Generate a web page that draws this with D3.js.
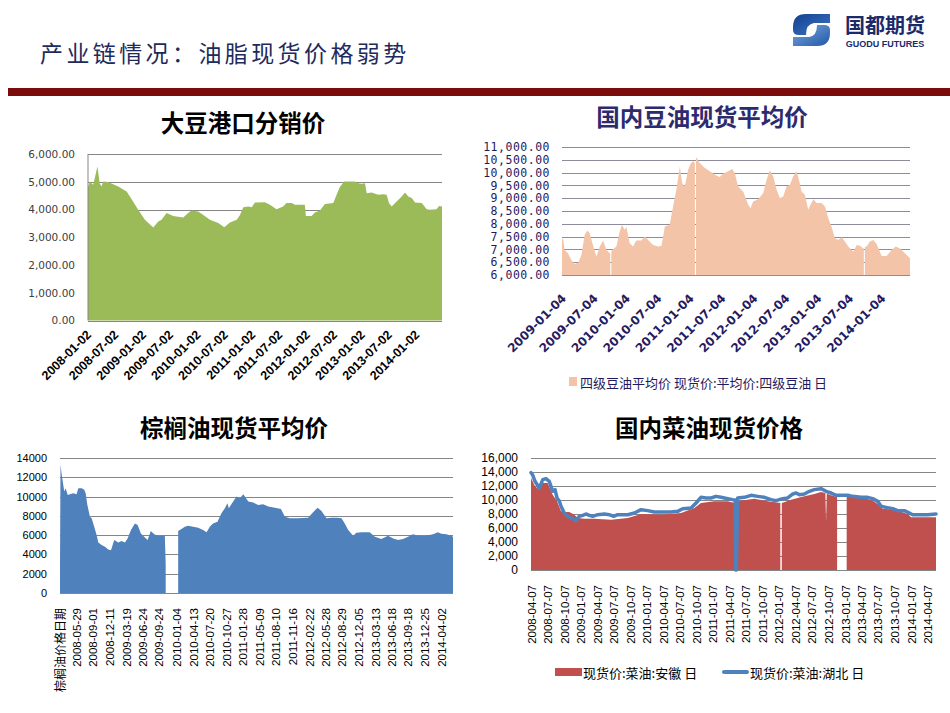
<!DOCTYPE html>
<html>
<head>
<meta charset="utf-8">
<script src="https://cdnjs.cloudflare.com/ajax/libs/d3/7.8.5/d3.min.js"></script>
<style>
  body{margin:0;background:#fff;}
  svg{display:block;}
</style>
</head>
<body>
<svg id="page" width="950" height="713"></svg>
<script>
// ---------------------------------------------------------------------------
// ------------------------------ DATA ---------------------------------------
// ---------------------------------------------------------------------------

// 大豆港口分销价
var soyPortPrice = [
 ["2008-01-02",4800],["2008-01-15",5010],["2008-02-05",4890],["2008-02-16",5130],["2008-03-05",5550],
 ["2008-03-20",4950],["2008-04-01",4830],["2008-04-13",5010],["2008-05-15",4990],["2008-07-22",4830],
 ["2008-09-16",4650],["2008-10-08",4470],["2008-12-02",3990],["2009-01-16",3630],["2009-03-13",3350],
 ["2009-04-15",3570],["2009-05-07",3630],["2009-06-10",3870],["2009-07-24",3770],["2009-09-29",3710],
 ["2009-11-01",3870],["2009-11-23",3960],["2010-01-07",3930],["2010-02-10",3800],["2010-03-26",3630],
 ["2010-05-21",3510],["2010-06-30",3360],["2010-08-07",3530],["2010-09-21",3630],["2010-10-13",3800],
 ["2010-11-04",4080],["2010-12-08",4110],["2010-12-30",4080],["2011-01-21",4250],["2011-03-28",4260],
 ["2011-05-01",4170],["2011-06-14",4010],["2011-07-28",4110],["2011-08-20",4230],["2011-09-23",4230],
 ["2011-10-15",4170],["2011-12-20",4170],["2011-12-27",3770],["2012-02-03",3770],["2012-02-25",3890],
 ["2012-03-30",3960],["2012-05-02",4200],["2012-06-27",4230],["2012-07-19",4530],["2012-08-10",4810],
 ["2012-09-08",5010],["2012-11-18",5010],["2012-12-10",4950],["2013-01-03",4930],["2013-01-25",4950],
 ["2013-02-05",4590],["2013-03-10",4610],["2013-04-23",4530],["2013-05-27",4550],["2013-06-18",4530],
 ["2013-07-04",4230],["2013-07-22",4110],["2013-08-24",4290],["2013-09-27",4470],["2013-10-19",4610],
 ["2013-11-10",4470],["2013-12-03",4410],["2013-12-25",4250],["2014-02-08",4230],["2014-03-13",4010],
 ["2014-04-04",3990],["2014-05-18",4010],["2014-06-03",4130],["2014-06-23",4110]
];
var soyPortTicks = ["2008-01-02","2008-07-02","2009-01-02","2009-07-02","2010-01-02","2010-07-02",
 "2011-01-02","2011-07-02","2012-01-02","2012-07-02","2013-01-02","2013-07-02","2014-01-02"];
var soyPortYTicks = [0,1000,2000,3000,4000,5000,6000];

// 国内豆油现货平均价 (null = no quote)
var soyOilPrice = [
 ["2009-01-04",7370],["2009-01-10",7440],["2009-01-19",6980],["2009-02-07",6850],["2009-02-26",6590],
 ["2009-03-18",6430],["2009-04-06",6480],["2009-04-25",6780],["2009-05-14",7570],["2009-05-29",7740],
 ["2009-06-11",7630],["2009-06-30",7170],["2009-07-20",6720],["2009-08-08",7110],["2009-08-27",7350],
 ["2009-09-15",6980],["2009-10-04",6850],["2009-10-07",6850],["2009-10-10",null],["2009-10-13",6900],
 ["2009-10-17",6980],["2009-11-11",7110],["2009-11-30",7700],["2009-12-13",7960],["2009-12-29",7760],
 ["2010-01-07",7890],["2010-01-26",7240],["2010-02-14",7110],["2010-03-05",7350],["2010-04-03",7350],
 ["2010-04-22",7500],["2010-05-11",7370],["2010-06-09",7170],["2010-07-08",7110],["2010-07-27",7140],
 ["2010-08-15",7890],["2010-09-12",7960],["2010-10-01",8680],["2010-10-20",9330],["2010-11-09",10240],
 ["2010-11-22",9590],["2010-12-07",9460],["2010-12-26",10110],["2011-01-11",10370],["2011-01-24",10440],
 ["2011-02-03",10370],["2011-02-06",null],["2011-02-09",10610],["2011-03-03",10370],["2011-04-01",10180],
 ["2011-04-29",10050],["2011-05-28",9920],["2011-06-25",9830],["2011-07-15",9960],["2011-08-12",10050],
 ["2011-09-04",10140],["2011-09-19",9980],["2011-10-08",9460],["2011-11-06",9260],["2011-12-05",8740],
 ["2011-12-18",8610],["2012-01-02",8870],["2012-01-31",8960],["2012-02-29",9200],["2012-03-19",9720],
 ["2012-04-07",10090],["2012-04-26",9850],["2012-05-15",9330],["2012-06-03",9000],["2012-06-22",9070],
 ["2012-07-11",9460],["2012-07-30",9520],["2012-08-18",9850],["2012-09-06",10050],["2012-09-20",9720],
 ["2012-10-05",9260],["2012-10-24",9130],["2012-11-12",8550],["2012-11-25",8740],["2012-12-11",8960],
 ["2012-12-30",8810],["2013-01-27",8810],["2013-02-16",8680],["2013-03-07",8220],["2013-03-26",7870],
 ["2013-04-14",7440],["2013-05-03",7370],["2013-05-22",7480],["2013-06-10",7310],["2013-06-29",7110],
 ["2013-07-28",6910],["2013-08-16",7170],["2013-09-04",7140],["2013-09-23",7040],["2013-09-26",7040],
 ["2013-09-29",null],["2013-10-02",7100],["2013-10-12",7110],["2013-10-31",7310],["2013-11-19",7370],
 ["2013-12-08",7210],["2014-01-06",6740],["2014-02-03",6740],["2014-03-04",6980],["2014-03-27",7110],
 ["2014-04-21",7040],["2014-05-19",6850],["2014-06-17",6650]
];
var soyOilTicks = ["2009-01-04","2009-07-04","2010-01-04","2010-07-04","2011-01-04","2011-07-04",
 "2012-01-04","2012-07-04","2013-01-04","2013-07-04","2014-01-04"];
var soyOilYTicks = [6000,6500,7000,7500,8000,8500,9000,9500,10000,10500,11000];
var soyOilLegend = "四级豆油平均价 现货价:平均价:四级豆油 日";

// 棕榈油现货平均价
var palmOilPrice = [
 ["2008-02-22",2400],["2008-02-25",13300],["2008-03-03",12260],["2008-03-12",11220],["2008-03-18",10520],
 ["2008-03-26",10870],["2008-04-07",10170],["2008-04-20",10240],["2008-05-10",10350],["2008-05-29",10240],
 ["2008-06-08",10870],["2008-06-28",10870],["2008-07-13",10700],["2008-07-21",10350],["2008-07-31",9130],
 ["2008-08-15",7920],["2008-08-25",7740],["2008-09-09",6880],["2008-09-23",6010],["2008-10-03",5240],
 ["2008-10-22",4970],["2008-11-11",4790],["2008-11-30",4510],["2008-12-16",4440],["2009-01-04",5490],
 ["2009-01-28",5240],["2009-02-16",5380],["2009-03-08",5240],["2009-03-23",5660],["2009-04-12",6530],
 ["2009-05-05",7220],["2009-05-21",7050],["2009-06-09",6180],["2009-06-28",5830],["2009-07-18",5490],
 ["2009-08-06",6420],["2009-08-26",6080],["2009-09-18",5940],["2009-10-27",5940],["2009-11-01",3000],
 ["2009-11-03",null],["2010-01-12",null],["2010-01-13",6420],["2010-02-01",6630],["2010-02-21",6880],
 ["2010-03-12",6980],["2010-04-11",6880],["2010-05-10",6770],["2010-06-08",6530],["2010-06-28",6290],
 ["2010-07-17",6880],["2010-08-05",7220],["2010-08-31",7400],["2010-09-23",8260],["2010-10-13",8780],
 ["2010-10-28",9310],["2010-11-05",8780],["2010-11-20",9200],["2010-12-20",10000],["2011-01-09",9830],
 ["2011-01-29",10240],["2011-02-11",9900],["2011-02-27",9480],["2011-03-28",9380],["2011-04-26",9130],
 ["2011-05-25",9200],["2011-06-24",8960],["2011-08-02",8850],["2011-09-06",8720],["2011-09-29",7920],
 ["2011-10-28",7740],["2011-12-16",7740],["2012-02-12",7810],["2012-03-12",8370],["2012-04-07",8850],
 ["2012-04-30",8510],["2012-05-29",7740],["2012-06-27",7810],["2012-07-27",7810],["2012-08-25",7740],
 ["2012-09-13",7220],["2012-10-03",6530],["2012-11-01",5940],["2012-11-20",6250],["2012-12-20",6290],
 ["2013-02-06",6290],["2013-03-08",5830],["2013-04-15",5590],["2013-05-24",5940],["2013-06-23",5660],
 ["2013-07-22",5490],["2013-08-20",5590],["2013-09-18",5830],["2013-10-17",6080],["2013-11-16",5940],
 ["2013-12-25",5900],["2014-02-11",6080],["2014-03-12",6290],["2014-04-01",6150],["2014-04-30",6080],
 ["2014-05-29",5940],["2014-06-08",5830]
];
var palmOilTicks = ["2008-05-29","2008-09-01","2008-12-11","2009-03-19","2009-06-24","2009-09-24",
 "2010-01-04","2010-04-13","2010-07-20","2010-10-27","2011-01-28","2011-05-09","2011-08-10","2011-11-16",
 "2012-02-22","2012-05-28","2012-08-29","2012-12-05","2013-03-13","2013-06-18","2013-09-18","2013-12-25",
 "2014-04-02"];
var palmOilHeader = "棕榈油价格日期";
var palmOilYTicks = [0,2000,4000,6000,8000,10000,12000,14000];

// 国内菜油现货价格 : 安徽 (area) / 湖北 (line)
var rapeAnhui = [
 ["2008-04-03",13140],["2008-04-25",11950],["2008-05-19",11480],["2008-06-07",12430],["2008-07-04",12430],
 ["2008-08-01",10760],["2008-08-25",9810],["2008-09-16",8380],["2008-10-04",8290],["2008-11-01",8290],
 ["2008-11-29",7900],["2008-12-17",7430],["2009-01-23",7330],["2009-03-19",7330],["2009-06-20",7190],
 ["2009-09-20",7430],["2009-12-03",8000],["2010-03-23",7900],["2010-07-12",8140],["2010-09-24",8860],
 ["2010-10-30",9570],["2011-01-12",9810],["2011-03-27",9810],["2011-05-05",9570],["2011-05-08",null],
 ["2011-05-16",9810],["2011-08-21",10190],["2011-11-03",9810],["2012-01-12",9570],["2012-01-16",null],
 ["2012-01-20",9570],["2012-03-11",10050],["2012-05-24",10520],["2012-07-18",10860],["2012-08-24",11140],
 ["2012-09-17",11000],["2012-09-21",6900],["2012-09-25",10900],["2012-11-21",10380],["2012-11-23",null],
 ["2013-01-11",null],["2013-01-13",10520],["2013-03-15",10380],["2013-05-28",10050],["2013-07-04",9430],
 ["2013-07-31",8760],["2013-10-04",8620],["2013-12-17",8000],["2014-01-04",7520],["2014-02-28",7520],
 ["2014-05-22",7520]
];
var rapeHubei = [
 ["2008-04-03",13900],["2008-04-12",13600],["2008-04-25",12670],["2008-05-19",11710],["2008-06-07",12900],
 ["2008-06-25",13050],["2008-07-13",12670],["2008-08-01",11240],["2008-08-14",11480],["2008-08-25",10290],
 ["2008-09-07",9810],["2008-09-16",9100],["2008-10-04",8140],["2008-10-23",7670],["2008-11-20",7330],
 ["2008-12-08",7050],["2008-12-26",7670],["2009-01-14",7810],["2009-02-01",8000],["2009-02-20",7810],
 ["2009-03-10",7670],["2009-04-07",7900],["2009-05-14",8000],["2009-06-10",7900],["2009-07-04",7670],
 ["2009-07-26",7900],["2009-09-20",7900],["2009-10-27",8140],["2009-12-03",8620],["2010-01-08",8480],
 ["2010-02-14",8290],["2010-03-23",8290],["2010-05-17",8290],["2010-06-23",8380],["2010-07-21",8760],
 ["2010-09-05",8860],["2010-10-03",9570],["2010-10-30",10380],["2010-11-27",10290],["2010-12-25",10290],
 ["2011-01-21",10520],["2011-02-18",10380],["2011-03-27",10190],["2011-04-24",10050],["2011-05-07",10000],
 ["2011-05-10",0],["2011-05-14",0],["2011-05-21",10290],["2011-06-27",10380],["2011-08-03",10670],
 ["2011-09-09",10520],["2011-10-16",10380],["2011-11-22",10050],["2011-12-19",9900],["2012-01-25",10190],
 ["2012-02-22",10290],["2012-03-21",10860],["2012-04-08",11000],["2012-04-26",10760],["2012-05-24",10860],
 ["2012-06-21",11240],["2012-07-18",11480],["2012-08-24",11620],["2012-09-21",11240],["2012-10-19",11000],
 ["2012-11-15",10670],["2013-01-19",10670],["2013-02-15",10520],["2013-04-03",10380],["2013-05-09",10380],
 ["2013-06-06",10190],["2013-07-04",9810],["2013-07-22",9100],["2013-08-19",8950],["2013-09-25",8760],
 ["2013-10-22",8480],["2013-11-28",8480],["2013-12-26",8140],["2014-01-13",7900],["2014-02-10",7900],
 ["2014-04-06",7900],["2014-05-22",8000]
];
var rapeTicks = ["2008-04-07","2008-07-07","2008-10-07","2009-01-07","2009-04-07","2009-07-07","2009-10-07",
 "2010-01-07","2010-04-07","2010-07-07","2010-10-07","2011-01-07","2011-04-07","2011-07-07","2011-10-07",
 "2012-01-07","2012-04-07","2012-07-07","2012-10-07","2013-01-07","2013-04-07","2013-07-07","2013-10-07",
 "2014-01-07","2014-04-07"];
var rapeYTicks = [0,2000,4000,6000,8000,10000,12000,14000,16000];
var rapeLegend = ["现货价:菜油:安徽 日","现货价:菜油:湖北 日"];

var pageTitle = "产业链情况：油脂现货价格弱势";
var chartTitles = ["大豆港口分销价","国内豆油现货平均价","棕榈油现货平均价","国内菜油现货价格"];

// ---------------------------------------------------------------------------

var parseDate = d3.timeParse("%Y-%m-%d");
var CJK = "'Noto Sans CJK SC', sans-serif";
var svg = d3.select("#page");

drawHeader();
drawSoyPort();
drawSoyOil();
drawPalmOil();
drawRapeOil();

// ----------------------------- HEADER -------------------------------------
function drawHeader(){
	svg.append("text")
		.text(pageTitle)
		.attr("x",40)
		.attr("y",52)
		.attr("dominant-baseline","central")
		.style("font-family",CJK)
		.style("font-size","23px")
		.style("font-weight","400")
		.style("letter-spacing","3.4px")
		.style("fill","#1f2a5c");

	svg.append("rect")
		.attr("x",8).attr("y",88)
		.attr("width",942).attr("height",8)
		.style("fill","#7b0c0c");

	// logo
	var defs = svg.append("defs");
	var gr = defs.append("linearGradient").attr("id","logoTop").attr("x1",0).attr("y1",0).attr("x2",1).attr("y2",1);
	gr.append("stop").attr("offset","0%").attr("stop-color","#123f8f");
	gr.append("stop").attr("offset","100%").attr("stop-color","#3f78c6");
	var gr2 = defs.append("linearGradient").attr("id","logoBot").attr("x1",0).attr("y1",0).attr("x2",1).attr("y2",1);
	gr2.append("stop").attr("offset","0%").attr("stop-color","#7fa8dc");
	gr2.append("stop").attr("offset","100%").attr("stop-color","#1f58a8");

	var logo = svg.append("g").attr("id","logo");
	logo.append("path")
		.attr("d","M830,14 L806,14 Q793,14 793,27 L793,30 Q793,35 799,35 L806,35 Q806,24 814,23 L830,23 Z")
		.style("fill","url(#logoTop)");
	logo.append("path")
		.attr("d","M793,46 L817,46 Q830,46 830,33 L830,30 Q830,25 824,25 L817,25 Q817,36 809,37 L793,37 Z")
		.style("fill","url(#logoBot)");
	logo.append("text")
		.text("国都期货")
		.attr("x",885).attr("y",24)
		.attr("dominant-baseline","central")
		.attr("text-anchor","middle")
		.style("font-family",CJK)
		.style("font-weight","bold")
		.style("font-size","20px")
		.style("fill","#1b2a6a");
	logo.append("text")
		.text("GUODU FUTURES")
		.attr("x",885).attr("y",44)
		.attr("dominant-baseline","central")
		.attr("text-anchor","middle")
		.style("font-family","'Liberation Sans', Arial, sans-serif")
		.style("font-weight","bold")
		.style("font-size","9px")
		.style("fill","#1b2a6a");
}

// ----------------------------- PANELS -------------------------------------

function drawSoyPort(){
	var p = _panel({
		data:soyPortPrice, start:"2008-01-02", end:"2014-06-23",
		left:88, right:442, top:154, bottom:320.5, yMin:0, yMax:6000
	});
	_drawTitle(chartTitles[0],243,122,"#000");
	_drawGrid(p,soyPortYTicks,"#868686");
	_drawArea(p,p.data,"#9bbb59");
	// left axis line
	p.g.append("line")
		.attr("x1",p.left).attr("x2",p.left)
		.attr("y1",p.top).attr("y2",p.bottom)
		.style("stroke","#868686");
	_drawYLabels(p,soyPortYTicks,d3.format(",.2f"),13,{
		"font-family":"'DejaVu Sans', sans-serif","font-size":"10.5px","fill":"#404040"});
	_drawSlantLabels(p,soyPortTicks,4,15,{
		"font-family":"'Liberation Sans', Arial, sans-serif","font-size":"12.5px",
		"font-weight":"bold","fill":"#000"});
}

function drawSoyOil(){
	var p = _panel({
		data:soyOilPrice, start:"2009-01-04", end:"2014-06-17",
		left:562, right:910, top:147, bottom:275, yMin:6000, yMax:11000
	});
	_drawTitle(chartTitles[1],702,116,"#2e2a6e");
	_drawGrid(p,soyOilYTicks,"#8c8c9c");
	_drawArea(p,p.data,"#f3c4a8");
	_drawYLabels(p,soyOilYTicks,d3.format(",.2f"),12,{
		"font-family":"'DejaVu Sans Mono', monospace","font-size":"11.5px",
		"letter-spacing":"0.5px","fill":"#1f1a5e"});
	_drawSlantLabels(p,soyOilTicks,5,24,{
		"font-family":"'DejaVu Sans', sans-serif","font-size":"12px",
		"font-weight":"bold","fill":"#221c63"});
	// legend
	p.g.append("rect")
		.attr("x",569).attr("y",377)
		.attr("width",8).attr("height",9)
		.style("fill","#f3c4a8");
	p.g.append("text")
		.text(soyOilLegend)
		.attr("x",580).attr("y",382)
		.attr("dominant-baseline","central")
		.style("font-family",CJK)
		.style("font-size","13px")
		.style("fill","#1f1a5e");
}

function drawPalmOil(){
	var p = _panel({
		data:palmOilPrice, start:"2008-02-22", end:"2014-06-08",
		left:60, right:453, top:458, bottom:593, yMin:0, yMax:14000
	});
	_drawTitle(chartTitles[2],234,427,"#000");
	_drawGrid(p,palmOilYTicks,"#868686");
	_drawArea(p,p.data,"#4f81bd");
	_drawYLabels(p,palmOilYTicks,d3.format("d"),13,{
		"font-family":"'Liberation Sans', Arial, sans-serif","font-size":"11px","fill":"#000"});
	var style = {"font-family":"'Liberation Sans', Arial, sans-serif","font-size":"11.5px","fill":"#000"};
	_drawVerticalLabels(p,palmOilTicks,15,style);
	// header row of the source sheet shows up as first category
	p.g.append("text")
		.text(palmOilHeader)
		.attr("transform","translate("+p.x(parseDate(p.start))+","+(p.bottom+15)+") rotate(-90)")
		.attr("text-anchor","end")
		.attr("dy","0.4em")
		.style("font-family",CJK)
		.style("font-size","12px")
		.style("fill","#000");
}

function drawRapeOil(){
	var p = _panel({
		data:rapeAnhui, start:"2008-04-03", end:"2014-05-22",
		left:531, right:936, top:458, bottom:570, yMin:0, yMax:16000
	});
	_drawTitle(chartTitles[3],709,427,"#000");
	_drawGrid(p,rapeYTicks,"#868686");
	_drawArea(p,p.data,"#c0504d");

	var hubei = rapeHubei.map(function(d){return {date:parseDate(d[0]),value:d[1]};});
	var line = d3.line()
		.defined(function(d){return d.value!==null;})
		.x(function(d){return p.x(d.date);})
		.y(function(d){return p.y(d.value);});
	p.g.append("path")
		.datum(hubei)
		.attr("d",line)
		.style("fill","none")
		.style("stroke","#4f81bd")
		.style("stroke-width",3.5)
		.style("stroke-linejoin","round")
		.style("stroke-linecap","round");

	_drawYLabels(p,rapeYTicks,d3.format(","),13,{
		"font-family":"'Liberation Sans', Arial, sans-serif","font-size":"12px","fill":"#000"});
	_drawVerticalLabels(p,rapeTicks,15,{
		"font-family":"'Liberation Sans', Arial, sans-serif","font-size":"11.5px","fill":"#000"});

	// legend
	var lg = p.g.append("g").attr("id","rapeLegend");
	lg.append("rect")
		.attr("x",555).attr("y",668)
		.attr("width",27).attr("height",8)
		.style("fill","#c0504d");
	lg.append("text")
		.text(rapeLegend[0])
		.attr("x",583).attr("y",672)
		.attr("dominant-baseline","central")
		.style("font-family",CJK).style("font-size","13px").style("fill","#000");
	lg.append("line")
		.attr("x1",724).attr("x2",747)
		.attr("y1",672).attr("y2",672)
		.style("stroke","#4f81bd")
		.style("stroke-width",4)
		.style("stroke-linecap","round");
	lg.append("text")
		.text(rapeLegend[1])
		.attr("x",750).attr("y",672)
		.attr("dominant-baseline","central")
		.style("font-family",CJK).style("font-size","13px").style("fill","#000");
}

/* ------------------------------ helpers ----------------------------------- */

function _panel(cfg){
	cfg.g = svg.append("g");
	cfg.x = d3.scaleTime()
		.domain([parseDate(cfg.start),parseDate(cfg.end)])
		.range([cfg.left,cfg.right]);
	cfg.y = d3.scaleLinear()
		.domain([cfg.yMin,cfg.yMax])
		.range([cfg.bottom,cfg.top]);
	cfg.data = cfg.data.map(function(d){return {date:parseDate(d[0]),value:d[1]};});
	return cfg;
}

function _drawTitle(text,x,y,color){
	svg.append("text")
		.text(text)
		.attr("x",x)
		.attr("y",y)
		.attr("text-anchor","middle")
		.attr("dominant-baseline","central")
		.style("font-family",CJK)
		.style("font-weight","bold")
		.style("font-size","23.5px")
		.style("fill",color);
}

function _drawGrid(p,ticks,color){
	p.g.selectAll(".grid")
		.data(ticks)
		.enter()
		.append("line")
		.attr("x1",p.left)
		.attr("x2",p.right)
		.attr("y1",function(d){return Math.round(p.y(d))+0.5;})
		.attr("y2",function(d){return Math.round(p.y(d))+0.5;})
		.style("stroke",color)
		.style("stroke-width",1);
}

function _drawArea(p,data,color){
	var area = d3.area()
		.defined(function(d){return d.value!==null;})
		.x(function(d){return p.x(d.date);})
		.y0(p.bottom)
		.y1(function(d){return p.y(d.value);});
	p.g.append("path")
		.datum(data)
		.attr("d",area)
		.style("fill",color);
}

function _drawYLabels(p,ticks,fmt,pad,style){
	var ax = p.g.append("g")
		.attr("transform","translate("+p.left+",0)")
		.call(d3.axisLeft(p.y).tickValues(ticks).tickFormat(fmt).tickSize(0).tickPadding(pad));
	ax.select(".domain").remove();
	var t = ax.selectAll("text");
	for (var k in style) t.style(k,style[k]);
}

function _drawSlantLabels(p,ticks,dx,dy,style){
	var t = p.g.selectAll(".slant")
		.data(ticks)
		.enter()
		.append("text")
		.text(function(d){return d;})
		.attr("transform",function(d){
			return "translate("+(p.x(parseDate(d))+dx)+","+(p.bottom+dy)+") rotate(-45)";})
		.attr("text-anchor","end");
	for (var k in style) t.style(k,style[k]);
}

function _drawVerticalLabels(p,ticks,dy,style){
	var t = p.g.selectAll(".vlab")
		.data(ticks)
		.enter()
		.append("text")
		.text(function(d){return d;})
		.attr("transform",function(d){
			return "translate("+p.x(parseDate(d))+","+(p.bottom+dy)+") rotate(-90)";})
		.attr("text-anchor","end")
		.attr("dy","0.35em");
	for (var k in style) t.style(k,style[k]);
}
</script>
</body>
</html>
